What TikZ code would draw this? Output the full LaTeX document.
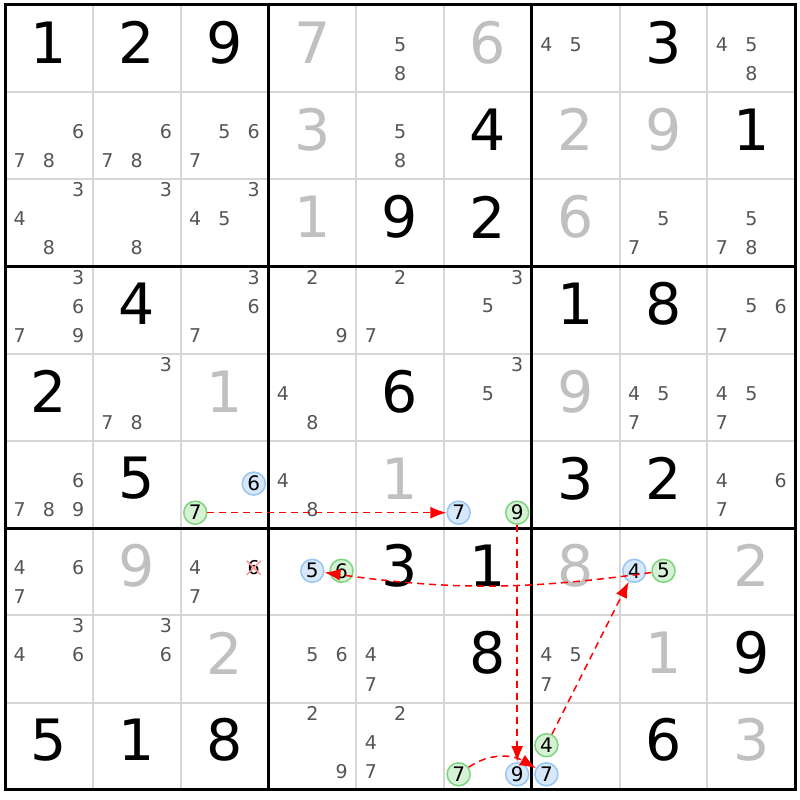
\documentclass[tikz,border=0pt]{standalone}
\usepackage{fontspec}
\setmainfont{DejaVu Sans}
\usetikzlibrary{arrows.meta}
\newcommand{\cw}{87.8}
\newcommand{\ch}{87.2}
\definecolor{candgray}{RGB}{85,85,85}
\definecolor{fadegray}{RGB}{192,192,192}
\definecolor{gridgray}{RGB}{214,214,214}
\definecolor{onblue}{RGB}{214,232,250}
\definecolor{onbluedraw}{RGB}{150,198,244}
\definecolor{ongreen}{RGB}{214,242,214}
\definecolor{ongreendraw}{RGB}{125,212,125}
\definecolor{crossred}{RGB}{255,150,150}

\tikzset{
  solved/.style={font=\fontsize{57}{57}\selectfont,inner sep=0pt},
  faded/.style={solved,text=fadegray},
  cand/.style={font=\fontsize{19}{19}\selectfont,text=candgray,inner sep=0pt},
  ring/.style={circle,line width=1.5pt,minimum size=23pt,inner sep=0pt,font=\fontsize{20}{20}\selectfont},
  bluering/.style={ring,draw=onbluedraw,fill=onblue},
  greenring/.style={ring,draw=ongreendraw,fill=ongreen},
  link/.style={red,dashed,line width=1.5pt,dash pattern=on 7pt off 5pt,-{Latex[length=16pt,width=12pt]}}
}

\begin{document}
\begin{tikzpicture}[x=1pt,y=-1pt]
\useasboundingbox (0,0) rectangle (800,800);
\fill[white] (0,0) rectangle (800,800);
% thin lines
\foreach \i in {1,...,8}{
\draw[gridgray,line width=2pt] ({5+\i*\cw},5) -- ({5+\i*\cw},{5+9*\ch});
\draw[gridgray,line width=2pt] (5,{5+\i*\ch}) -- ({5+9*\cw},{5+\i*\ch});
}
% box lines
\foreach \i in {0,3,6,9}{
\draw[black,line width=3pt] ({5+\i*\cw},3.5) -- ({5+\i*\cw},{6.5+9*\ch});
\draw[black,line width=3pt] (3.5,{5+\i*\ch}) -- ({6.5+9*\cw},{5+\i*\ch});
}
% solved digits
\foreach \r/\c/\d in {1/1/1,1/2/2,1/3/9,1/8/3,2/6/4,2/9/1,3/5/9,3/6/2,4/2/4,4/7/1,4/8/8,5/1/2,5/5/6,6/2/5,6/7/3,6/8/2,7/5/3,7/6/1,8/6/8,8/9/9,9/1/5,9/2/1,9/3/8,9/8/6}{
\node[solved] (d\r\c) at ({5+(\c-0.5)*\cw},{5+(\r-0.5)*\ch-6}) {\d};
}
\foreach \r/\c/\d in {1/4/7,1/6/6,2/4/3,2/7/2,2/8/9,3/4/1,3/7/6,5/3/1,5/7/9,6/5/1,7/2/9,7/7/8,7/9/2,8/3/2,8/8/1,9/9/3}{
\node[faded] (d\r\c) at ({5+(\c-0.5)*\cw},{5+(\r-0.5)*\ch-6}) {\d};
}
% candidates
\foreach \r/\c/\d in {1/5/5,1/5/8,1/7/4,1/7/5,1/9/4,1/9/5,1/9/8,
  2/1/6,2/1/7,2/1/8,2/2/6,2/2/7,2/2/8,2/3/5,2/3/6,2/3/7,2/5/5,2/5/8,
  3/1/3,3/1/4,3/1/8,3/2/3,3/2/8,3/3/3,3/3/4,3/3/5,3/8/5,3/8/7,3/9/5,3/9/7,3/9/8,
  4/1/3,4/1/6,4/1/7,4/1/9,4/3/3,4/3/6,4/3/7,4/4/2,4/4/9,4/5/2,4/5/7,4/6/3,4/6/5,4/9/5,4/9/6,4/9/7,
  5/2/3,5/2/7,5/2/8,5/4/4,5/4/8,5/6/3,5/6/5,5/8/4,5/8/5,5/8/7,5/9/4,5/9/5,5/9/7,
  6/1/6,6/1/7,6/1/8,6/1/9,6/4/4,6/4/8,6/9/4,6/9/6,6/9/7,
  7/1/4,7/1/6,7/1/7,7/3/4,7/3/7,
  8/1/3,8/1/4,8/1/6,8/2/3,8/2/6,8/4/5,8/4/6,8/5/4,8/5/7,8/7/4,8/7/5,8/7/7,
  9/4/2,9/4/9,9/5/2,9/5/4,9/5/7}{
\pgfmathtruncatemacro{\sc}{mod(\d-1,3)}
\pgfmathtruncatemacro{\sr}{div(\d-1,3)}
\node[cand] (n\r\c\d) at ({5+(\c-1)*\cw+(\sc+0.5)*\cw/3},{5+(\r-1)*\ch+(\sr+0.5)*\ch/3-4}) {\d};
}
% eliminated
\node[font=\fontsize{19}{19}\selectfont,inner sep=0pt] (n736) at ({5+2*\cw+2.5*\cw/3},{5+6*\ch+1.5*\ch/3-4}) {6};
\draw[crossred,line width=1.5pt] ([shift={(-7,-7)}]n736.center) -- ([shift={(7,7)}]n736.center);
\draw[crossred,line width=1.5pt] ([shift={(-7,7)}]n736.center) -- ([shift={(7,-7)}]n736.center);
% chain
\foreach \r/\c/\d/\k in {6/3/6/bluering,6/3/7/greenring,6/6/7/bluering,6/6/9/greenring,
  9/6/9/bluering,9/6/7/greenring,9/7/7/bluering,9/7/4/greenring,
  7/8/4/bluering,7/8/5/greenring,7/4/5/bluering,7/4/6/greenring}{
\pgfmathtruncatemacro{\sc}{mod(\d-1,3)}
\pgfmathtruncatemacro{\sr}{div(\d-1,3)}
\node[\k] (n\r\c\d) at ({5+(\c-1)*\cw+(\sc+0.5)*\cw/3},{5+(\r-1)*\ch+(\sr+0.5)*\ch/3-1}) {\d};
}
\draw[link] (n637) -- (n667);
\draw[link] (n669) -- (n969);
\draw[link] (n967) to[out=35,in=150] (n977);
\draw[link] (n974) -- (n784);
\draw[link] (n785) to[bend left=8] (n745);
\end{tikzpicture}
\end{document}
